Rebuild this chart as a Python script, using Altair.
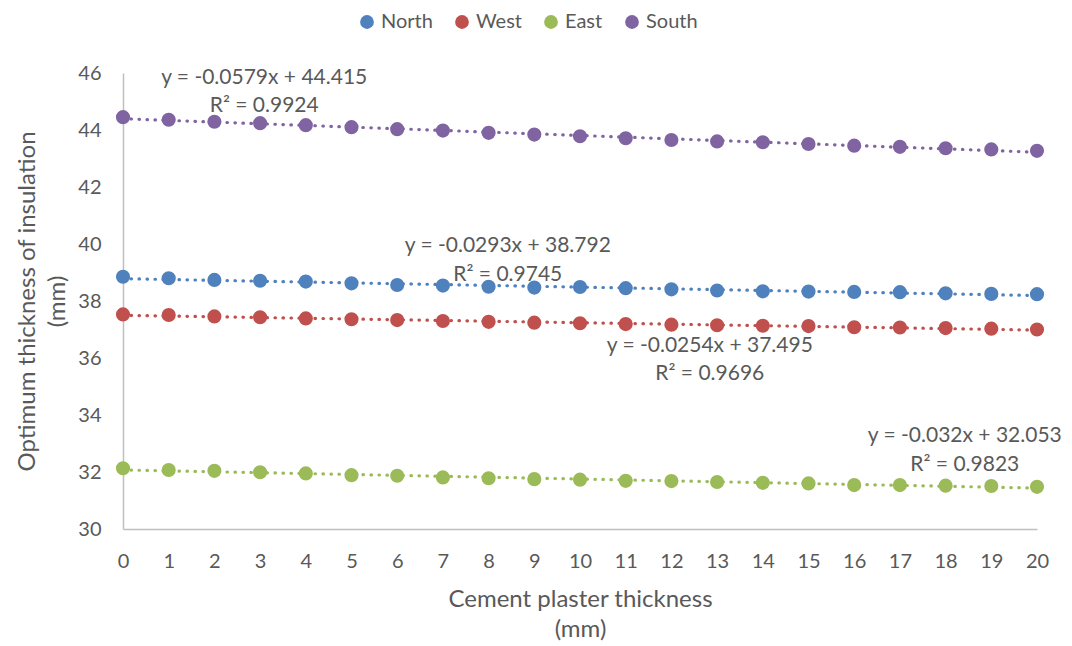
import altair as alt
import pandas as pd

# ---- data ----
thickness = list(range(0, 21))
north = [38.85, 38.80, 38.74, 38.71, 38.68, 38.62, 38.56, 38.54, 38.50, 38.47, 38.49,
         38.45, 38.41, 38.37, 38.34, 38.33, 38.32, 38.31, 38.27, 38.25, 38.24]
west = [37.53, 37.51, 37.46, 37.43, 37.39, 37.36, 37.33, 37.30, 37.27, 37.24, 37.22,
        37.19, 37.17, 37.15, 37.13, 37.12, 37.08, 37.07, 37.05, 37.03, 37.00]
east = [32.13, 32.07, 32.04, 31.99, 31.95, 31.89, 31.87, 31.81, 31.78, 31.75, 31.73,
        31.69, 31.68, 31.65, 31.62, 31.60, 31.54, 31.54, 31.52, 31.51, 31.48]
south = [44.45, 44.36, 44.29, 44.24, 44.17, 44.10, 44.03, 43.98, 43.90, 43.84, 43.78,
         43.71, 43.65, 43.60, 43.57, 43.51, 43.45, 43.41, 43.36, 43.32, 43.27]

series_names = ["North", "West", "East", "South"]
series_colors = ["#4F81BD", "#C0504D", "#9BBB59", "#8064A2"]

eq_texts = ["y = -0.0293x + 38.792", "y = -0.0254x + 37.495",
            "y = -0.032x + 32.053", "y = -0.0579x + 44.415"]
r2_texts = ["R² = 0.9745", "R² = 0.9696", "R² = 0.9823", "R² = 0.9924"]
label_x = [8.42, 12.84, 18.42, 3.09]
eq_y = [39.92, 36.42, 33.26, 45.82]
r2_y = [38.91, 35.44, 32.25, 44.84]

x_ticks = list(range(0, 21))
y_ticks = [30, 32, 34, 36, 38, 40, 42, 44, 46]

# ---- build tables ----
rows = []
for name, vals in zip(series_names, [north, west, east, south]):
    for x, v in zip(thickness, vals):
        rows.append({"x": x, "y": v, "series": name})
df = pd.DataFrame(rows)

labels = pd.DataFrame({
    "x": label_x * 2,
    "y": eq_y + r2_y,
    "text": eq_texts + r2_texts,
})

FONT = "Lato"
GREY = "#595959"

xscale = alt.Scale(domain=[0, 20], nice=False, zero=False)
yscale = alt.Scale(domain=[30, 46], nice=False, zero=False)
color = alt.Color(
    "series:N",
    scale=alt.Scale(domain=series_names, range=series_colors),
    legend=alt.Legend(
        title=None, orient="none", direction="horizontal",
        legendX=234, legendY=-61, symbolType="circle", symbolSize=190,
        labelFontSize=20, labelColor=GREY, labelFont=FONT,
        columnPadding=19, symbolStrokeWidth=0, labelOffset=4,
    ),
)

base = alt.Chart(df)

trend = base.transform_regression(
    "x", "y", groupby=["series"], method="linear", extent=[0, 20]
).mark_line(strokeDash=[0.5, 7.5], strokeCap="round", strokeWidth=3.2).encode(
    x=alt.X("x:Q", scale=xscale),
    y=alt.Y("y:Q", scale=yscale),
    color=color,
)

points = base.mark_circle(size=200, opacity=1).encode(
    x=alt.X("x:Q", scale=xscale,
            axis=alt.Axis(values=x_ticks, title=["Cement plaster thickness", "(mm)"],
                          grid=False, ticks=False, labelPadding=22, titlePadding=16,
                          labelFlush=False, format="d")),
    y=alt.Y("y:Q", scale=yscale,
            axis=alt.Axis(values=y_ticks, title=["Optimum thickness of insulation", "(mm)"],
                          grid=False, ticks=False, labelPadding=22, titlePadding=8,
                          labelFlush=False)),
    color=color,
)

text = alt.Chart(labels).mark_text(
    fontSize=21, font=FONT, color=GREY, align="center", baseline="middle"
).encode(
    x=alt.X("x:Q", scale=xscale),
    y=alt.Y("y:Q", scale=yscale),
    text="text:N",
)

chart = alt.layer(trend, points, text).properties(
    width=914, height=456,
    autosize="none",
    padding={"left": 115, "top": 65, "right": 27, "bottom": 120},
).configure_view(stroke=None).configure_axis(
    domainColor="#BFBFBF", domainWidth=1.5,
    labelFont=FONT, labelFontSize=20, labelColor=GREY,
    titleFont=FONT, titleFontSize=24, titleColor=GREY, titleFontWeight="normal",
    titleLineHeight=30,
).configure_legend(labelFont=FONT)

chart.save("out.html", embed_options={"renderer": "svg", "actions": False})
